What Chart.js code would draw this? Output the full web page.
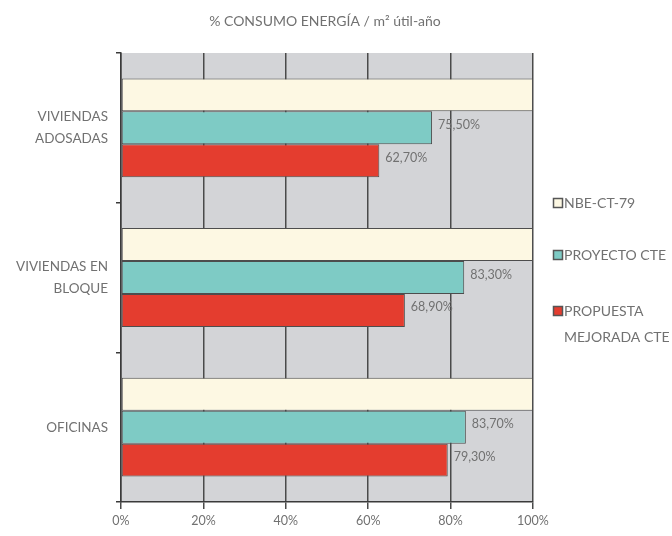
<!DOCTYPE html>
<html>
<head>
<meta charset="utf-8">
<script src="https://cdn.jsdelivr.net/npm/chart.js@4"></script>
<style>
  html, body { margin: 0; padding: 0; background: #ffffff; }
  #wrap { position: relative; width: 672px; height: 536px; }
</style>
</head>
<body>
<div id="wrap"><canvas id="c" width="672" height="536"></canvas></div>
<script>
// Building types (each label split over lines)
const categories = [['VIVIENDAS', 'ADOSADAS'], ['VIVIENDAS EN', 'BLOQUE'], ['OFICINAS']];

// Series names, as drawn in the legend
const seriesNames = [['NBE-CT-79'], ['PROYECTO CTE'], ['PROPUESTA', 'MEJORADA CTE']];

// % energy consumption per m² useful floor area and year
const nbeCt79 = [100, 100, 100];
const proyectoCte = [75.5, 83.3, 83.7];
const propuestaMejorada = [62.7, 68.9, 79.3];

const seriesColors = ['#fdf8e3', '#7ecbc5', '#e43d2f'];
const xTicks = [0, 20, 40, 60, 80, 100];

const FONT = 'Lato, "Open Sans", sans-serif';
const TEXT = '#717171';

const plotBackground = {
  id: 'plotBackground',
  beforeDraw(chart) {
    const { ctx, chartArea: a } = chart;
    ctx.save();
    ctx.fillStyle = '#d3d4d7';
    ctx.fillRect(a.left, a.top, a.right - a.left, a.bottom - a.top);
    ctx.restore();
  }
};

const titleText = {
  id: 'titleText',
  afterDraw(chart) {
    const { ctx } = chart;
    ctx.save();
    ctx.font = '14px ' + FONT;
    ctx.fillStyle = TEXT;
    ctx.textAlign = 'center';
    ctx.textBaseline = 'middle';
    ctx.fillText('% CONSUMO ENERGÍA / m² útil-año', 325, 21);
    ctx.restore();
  }
};

// Value labels to the right of the two project series
const valueLabels = {
  id: 'valueLabels',
  afterDatasetsDraw(chart) {
    const { ctx } = chart;
    ctx.save();
    ctx.font = '12.5px ' + FONT;
    ctx.fillStyle = TEXT;
    ctx.textAlign = 'left';
    ctx.textBaseline = 'middle';
    [1, 2].forEach(di => {
      const meta = chart.getDatasetMeta(di);
      const data = chart.data.datasets[di].data;
      meta.data.forEach((bar, i) => {
        const txt = data[i].toFixed(2).replace('.', ',') + '%';
        ctx.fillText(txt, bar.x + 6, bar.y - 3);
      });
    });
    ctx.restore();
  }
};

// Legend on the right, with a two-line entry
const sideLegend = {
  id: 'sideLegend',
  afterDraw(chart) {
    const { ctx } = chart;
    const ys = [203, 255, 311];
    ctx.save();
    ctx.font = '14px ' + FONT;
    ctx.textBaseline = 'middle';
    ctx.textAlign = 'left';
    seriesNames.forEach((lines, i) => {
      const y = ys[i];
      ctx.fillStyle = chart.data.datasets[i].backgroundColor;
      ctx.fillRect(553.5, y - 4.5, 9, 9);
      ctx.strokeStyle = '#555';
      ctx.lineWidth = 1.5;
      ctx.strokeRect(553.5, y - 4.5, 9, 9);
      ctx.fillStyle = TEXT;
      lines.forEach((ln, k) => ctx.fillText(ln, 564, y + k * 26));
    });
    ctx.restore();
  }
};

new Chart(document.getElementById('c'), {
  type: 'bar',
  data: {
    labels: categories,
    datasets: [nbeCt79, proyectoCte, propuestaMejorada].map((d, i) => ({
      label: seriesNames[i].join(' '),
      data: d,
      backgroundColor: seriesColors[i],
      borderColor: '#4d4d4d',
      borderWidth: 1,
      borderSkipped: false,
      barPercentage: 1,
      categoryPercentage: 0.66
    }))
  },
  options: {
    indexAxis: 'y',
    responsive: false,
    animation: false,
    devicePixelRatio: 1,
    layout: { padding: { top: 53, right: 139, left: 0, bottom: 0 } },
    plugins: {
      legend: { display: false },
      title: { display: false },
      tooltip: { enabled: false }
    },
    scales: {
      x: {
        min: 0,
        max: 100,
        afterBuildTicks(scale) { scale.ticks = xTicks.map(v => ({ value: v })); },
        afterFit(scale) { scale.height = 34; },
        grid: { color: '#4a4a4a', lineWidth: 1.5, tickLength: 7, drawTicks: true },
        border: { display: true, color: '#3a3a3a', width: 1.5 },
        ticks: {
          callback: v => v + '%',
          color: TEXT,
          font: { family: FONT, size: 12.5 },
          padding: 4,
          maxRotation: 0
        }
      },
      y: {
        offset: true,
        afterFit(scale) { scale.width = 121; },
        grid: { drawOnChartArea: false, offset: true, color: '#3a3a3a', lineWidth: 1.5, tickLength: 5 },
        border: { display: true, color: '#3a3a3a', width: 1.5 },
        ticks: {
          color: TEXT,
          font: { family: FONT, size: 13.5, lineHeight: 1.65 },
          padding: 8,
          crossAlign: 'near'
        }
      }
    }
  },
  plugins: [plotBackground, titleText, valueLabels, sideLegend]
});
</script>
</body>
</html>
